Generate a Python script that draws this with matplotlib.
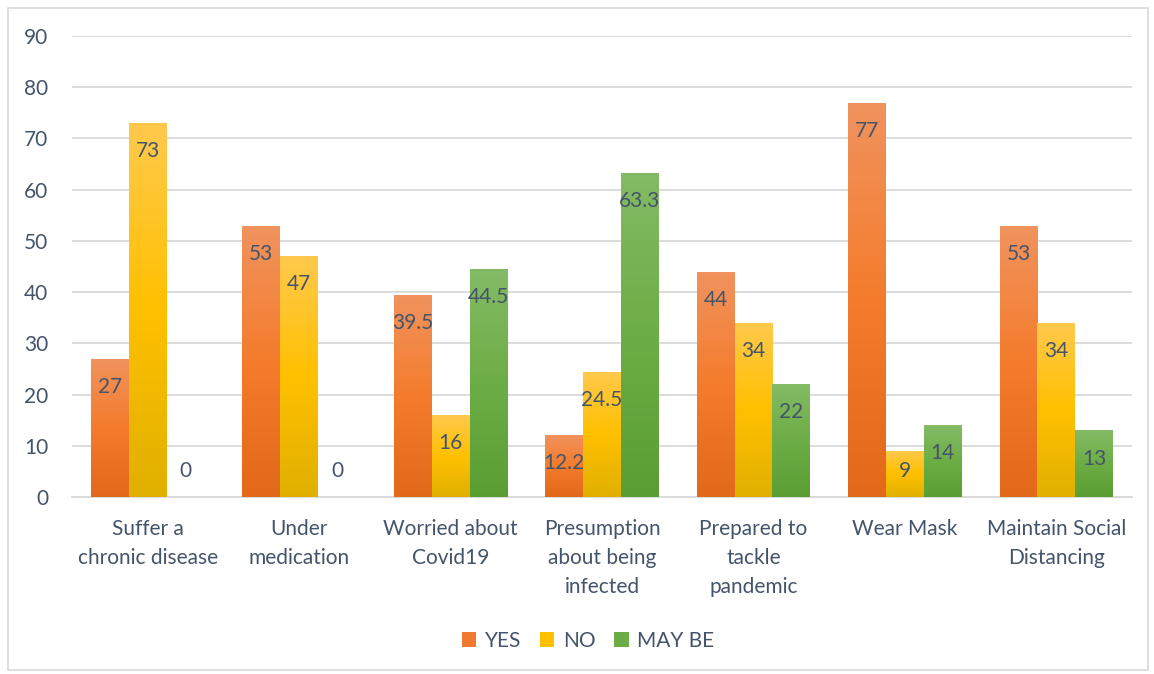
import numpy as np
import matplotlib
matplotlib.use("Agg")
import matplotlib.pyplot as plt
from matplotlib.colors import LinearSegmentedColormap
from matplotlib.patches import Rectangle, Patch

# 数据
categories = ["Suffer a\nchronic disease", "Under\nmedication", "Worried about\nCovid19",
              "Presumption\nabout being\ninfected", "Prepared to\ntackle\npandemic",
              "Wear Mask", "Maintain Social\nDistancing"]
series_names = ["YES", "NO", "MAY BE"]
yes_vals = [27, 53, 39.5, 12.2, 44, 77, 53]
no_vals = [73, 47, 16, 24.5, 34, 9, 34]
maybe_vals = [0, 0, 44.5, 63.3, 22, 14, 13]
label_text = {
    "YES": ["27", "53", "39.5", "12.2", "44", "77", "53"],
    "NO": ["73", "47", "16", "24.5", "34", "9", "34"],
    "MAY BE": ["0", "0", "44.5", "63.3", "22", "14", "13"],
}
y_ticks = [0, 10, 20, 30, 40, 50, 60, 70, 80, 90]

# 渐变颜色 (顶部 -> 中间 -> 底部)
grads = {
    "YES": ["#F0935E", "#F47C2C", "#E2681A"],
    "NO": ["#FFC94D", "#FFC000", "#E0B000"],
    "MAY BE": ["#84BB66", "#6DAD45", "#5A9E33"],
}
legend_colors = {"YES": "#F07A30", "NO": "#FFC000", "MAY BE": "#6CAC46"}
text_color = "#44546A"

plt.rcParams["font.family"] = ["Lato", "DejaVu Sans"]
fs = 15

fig = plt.figure(figsize=(11.54, 6.74), dpi=100)
ax = fig.add_axes([72 / 1154, 1 - 497 / 674, (1132 - 72) / 1154, (497 - 36) / 674])

# 外边框
fig.patches.append(Rectangle((8 / 1154, 4 / 674), 1140 / 1154, 662 / 674,
                             transform=fig.transFigure, fill=False,
                             edgecolor="#D9D9D9", linewidth=1.2))

x = np.arange(len(categories))
w = 0.25
all_vals = [yes_vals, no_vals, maybe_vals]

for i, (name, vals) in enumerate(zip(series_names, all_vals)):
    bars = ax.bar(x + (i - 1) * w, vals, width=w, color="none", zorder=3)
    cmap = LinearSegmentedColormap.from_list(name, grads[name][::-1])
    for bar, v, t in zip(bars, vals, label_text[name]):
        if v > 0:
            bx, bw = bar.get_x(), bar.get_width()
            im = ax.imshow(np.linspace(0, 1, 256).reshape(-1, 1), cmap=cmap,
                           extent=[bx, bx + bw, 0, v], origin="lower",
                           aspect="auto", zorder=3)
            im.set_clip_path(bar)
        ly = max(v - 5.5, 5.0)
        ax.text(bar.get_x() + bar.get_width() / 2, ly, t, ha="center", va="center",
                fontsize=fs, color=text_color, zorder=4)

ax.set_xlim(-0.5, len(categories) - 0.5)
ax.set_ylim(0, 90)
ax.set_yticks(y_ticks)
ax.set_xticks(x)
ax.set_xticklabels(categories, fontsize=fs, color=text_color, linespacing=1.55)
ax.tick_params(axis="y", labelsize=fs, labelcolor=text_color, length=0, pad=17)
ax.tick_params(axis="x", length=0, pad=16)
ax.grid(axis="y", color="#D9D9D9", linewidth=1.3, zorder=0)
for s in ["top", "right", "left"]:
    ax.spines[s].set_visible(False)
ax.spines["bottom"].set_color("#D9D9D9")
ax.spines["bottom"].set_linewidth(1.3)

handles = [Patch(facecolor=legend_colors[n], label=n) for n in series_names]
fig.legend(handles=handles, loc="center", bbox_to_anchor=(588 / 1154, 1 - 641 / 674),
           ncol=3, frameon=False, fontsize=fs, labelcolor=text_color,
           handlelength=0.7, handleheight=0.7, handletextpad=0.4, columnspacing=0.9)

fig.savefig("out.png", dpi=100)
